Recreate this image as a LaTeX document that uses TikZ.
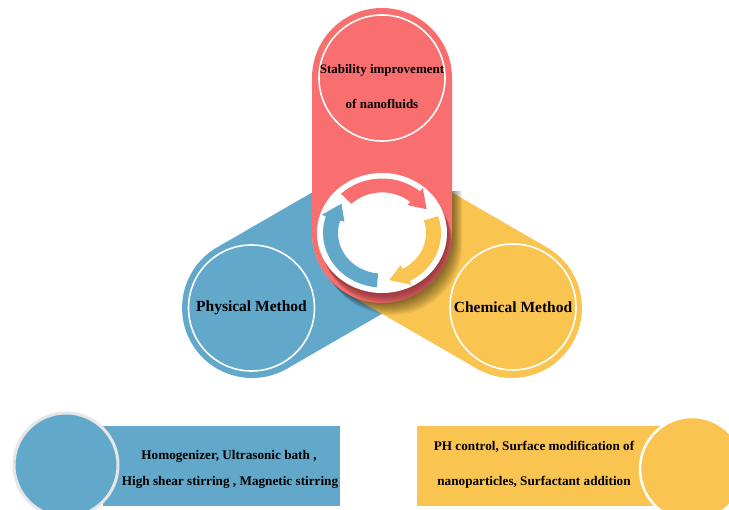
\documentclass[tikz,border=0pt]{standalone}
\usepackage{fontspec}
\setmainfont{Liberation Serif}
\begin{document}
\definecolor{armred}{HTML}{F96E6E}
\definecolor{armblue}{HTML}{62A8CB}
\definecolor{armyellow}{HTML}{F9C44F}
\definecolor{rimred}{HTML}{7A2A2E}
\definecolor{dotrim}{HTML}{E6E6E6}
\begin{tikzpicture}[x=1pt,y=1pt,
  toplbl/.style={font=\bfseries\fontsize{13}{15}\selectfont, text=black, inner sep=0},
  armlbl/.style={font=\bfseries\fontsize{15.5}{18}\selectfont, text=black, inner sep=0},
  boxlbl/.style={font=\bfseries\fontsize{13.2}{15}\selectfont, text=black, inner sep=0},
  endring/.style={draw=white, line width=1.6},
  dot/.style={circle, inner sep=0, minimum size=104},
  box/.style={rectangle, inner sep=0, minimum height=80}]
\useasboundingbox (0,0) rectangle (729,510);
\fill[white] (0,0) rectangle (729,510);

% the three arms, drawn from the hub outwards
\begin{scope}[shift={(382,277)}, rotate=210]
  \fill[armblue] (0,-70) -- (150,-70) arc[start angle=-90,end angle=90,radius=70]
    -- (0,70) arc[start angle=90,end angle=270,radius=70] -- cycle;
\end{scope}
\begin{scope}[shift={(382,277)}, rotate=-30]
  \fill[armyellow] (0,-70) -- (150,-70) arc[start angle=-90,end angle=90,radius=70]
    -- (0,70) arc[start angle=90,end angle=270,radius=70] -- cycle;
\end{scope}

% soft shadow cast by the vertical arm
\begin{scope}
  \clip (0,0) rectangle (729,318);
  \foreach \k in {1,...,10} {
    \begin{scope}[shift={(382+\k*1.0,277-\k*1.2)}, rotate=90]
      \fill[black, opacity=0.055] (0,-70) -- (155,-70) arc[start angle=-90,end angle=90,radius=70]
        -- (0,70) arc[start angle=90,end angle=270,radius=70] -- cycle;
    \end{scope}
  }
\end{scope}

% vertical arm
\begin{scope}[shift={(382,277)}, rotate=90]
  \fill[armred] (0,-70) -- (155,-70) arc[start angle=-90,end angle=90,radius=70]
    -- (0,70) arc[start angle=90,end angle=270,radius=70] -- cycle;
\end{scope}
% darker rim under the hub disc
\begin{scope}
  \clip[shift={(382,277)}, rotate=90] (0,-70) -- (155,-70) arc[start angle=-90,end angle=90,radius=70]
    -- (0,70) arc[start angle=90,end angle=270,radius=70] -- cycle;
  \foreach \k in {1,...,8}
    \fill[rimred, opacity=0.14] (382+\k*0.7,277-\k*1.4) ellipse[x radius=65, y radius=60];
\end{scope}

% hub disc with the cycle arrows
\fill[white] (382,277) ellipse[x radius=65, y radius=60];
\newcommand\cyclearrow[4]{%
  \fill[#1] (#2:59) arc[start angle=#2, end angle=#3, radius=59] -- (#3:63.5)
    -- (#4:51.5) -- (#3:39.5) -- (#3:44) arc[start angle=#3, end angle=#2, radius=44] -- cycle;}
\begin{scope}[shift={(382,277)}, yscale=0.923]
  \cyclearrow{armred}{134}{50}{30}
  \cyclearrow{armyellow}{18}{-62}{-82}
  \cyclearrow{armblue}{-95}{-198}{-218}
\end{scope}

% rings at the arm ends
\draw[endring] (382,432) circle[radius=63];
\draw[endring] (251.5,202) circle[radius=63];
\draw[endring] (513,203) circle[radius=63];

\node[toplbl] (stab1) at (382,440) {Stability improvement};
\node[toplbl] (stab2) at (382,406) {of nanofluids};
\node[armlbl] (phys) at (251.5,202) {Physical Method};
\node[armlbl] (chem) at (513,203) {Chemical Method};

% bottom legends
\node[box, fill=armblue, minimum width=237] (physbox) at (221.5,44) {};
\node[dot, fill=armblue, draw=dotrim, line width=3] (physdot) at (66,45) {};
\node[boxlbl] (phys1) at (229,54) {Homogenizer, Ultrasonic bath ,};
\node[boxlbl] (phys2) at (230,28) {High shear stirring , Magnetic stirring};

\node[box, fill=armyellow, minimum width=243] (chembox) at (538.5,44) {};
\node[dot, fill=armyellow, draw=white, line width=2.5] (chemdot) at (692,41) {};
\node[boxlbl] (chem1) at (534,63) {PH control, Surface modification of};
\node[boxlbl] (chem2) at (534,28) {nanoparticles, Surfactant addition};
\end{tikzpicture}
\end{document}
